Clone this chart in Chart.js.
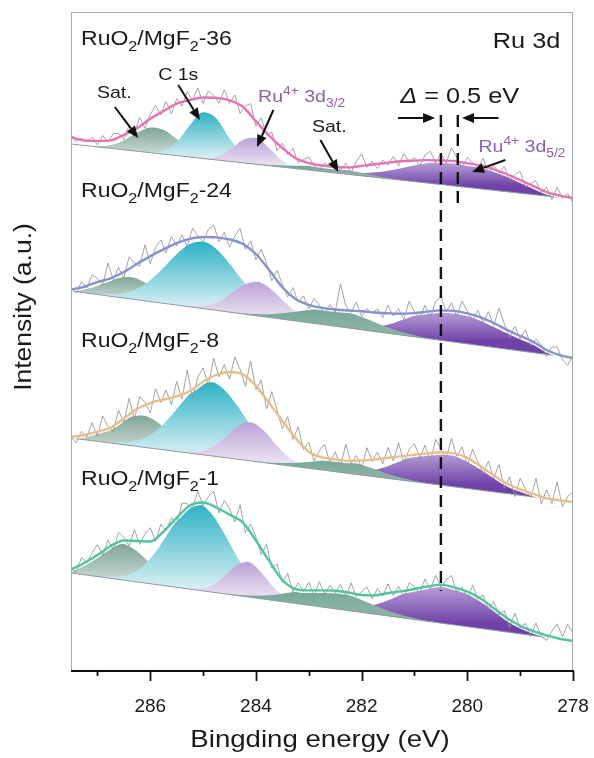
<!DOCTYPE html>
<html>
<head>
<meta charset="utf-8">
<title>Ru 3d XPS</title>
<script src="https://cdn.jsdelivr.net/npm/chart.js@4.4.1/dist/chart.umd.min.js"></script>
<style>
  html, body { margin: 0; padding: 0; background: #fff; }
  canvas { display: block; }
</style>
</head>
<body>
<canvas id="xps" width="594" height="758"></canvas>
<script>
/* Ru 3d XPS spectra of RuO2/MgF2 samples, stacked with offsets */
(function () {
  'use strict';

  Chart.defaults.font.family = "'Liberation Sans', Arial, Helvetica, sans-serif";
  Chart.defaults.color = '#1a1a1a';

  // ── Energy axis (eV, drawn reversed) ──
  var E_MAX = 287.5, E_MIN = 278;
  var FIT_STEP = 0.25;   // fitted curves: one sample every 0.25 eV
  var RAW_STEP = 0.1;    // measured counts: one sample every 0.1 eV from 287.5
  var xTickLabels = [286, 284, 282, 280, 278];

  // ── Linear background of each stacked spectrum [at 287.5 eV, at 278 eV] ──
  var bg36 = [526, 471];
  var bg24 = [379, 312];
  var bg8 = [232, 168];
  var bg1 = [97, 29];

  // ── Fit envelopes, height above background, 287.5 -> 278 every 0.25 eV ──
  var env36 = [7, 5, 6, 8, 15, 23, 34, 43, 52, 57, 61, 62, 61, 56, 43, 30, 19, 10.5, 7, 6,
    6, 7, 10, 13, 16, 19, 21, 23, 24, 25, 24, 23.5, 21, 17.5, 13, 8.5, 4, 2, 1];
  var env24 = [1.5, 6, 12.5, 18, 26, 36, 45.5, 54, 62, 68, 71.7, 73, 72.7, 70, 61.7, 47.5, 32, 22, 17.8, 16.6,
    16.8, 17.5, 18.5, 19, 20, 21.3, 23.8, 27, 30, 31.2, 30.5, 28.3, 24.4, 19.3, 15, 10.8, 4.5, 1.2, 0];
  var env8 = [1, 4.7, 9.8, 15.5, 26.3, 37.4, 45, 50.3, 55, 62, 73, 81.6, 86.2, 85.5, 75.7, 60.3, 44, 28.7, 16.5, 12.6,
    12.3, 12.5, 14.6, 17.4, 20.6, 23.7, 27.1, 30.1, 32.9, 33.5, 30.7, 23.9, 16.5, 9.8, 6, 3.1, 0.3, 0, 0];
  var env1 = [3.5, 11.8, 21.5, 32.3, 39.7, 41, 42.2, 54, 69.4, 83.6, 88.4, 85.2, 79.9, 73.8, 57.6, 38.9, 21.6, 14.4, 14.8, 16.6,
    18.1, 18.1, 17.4, 18.8, 23, 26.3, 30.5, 34.8, 38.5, 37.5, 35, 30, 22, 14, 8, 4.5, 2, 0.5, 0];

  // ── Measured counts, height above background, 287.5 -> 278 every 0.1 eV ──
  var raw36 = [7, 3, 7, 4, 9, 2, 12, 6, 15, 16, 10, 25, 18, 34, 24, 38, 48, 39, 53, 41,
    57, 50, 65, 57, 70, 55, 68, 64, 57, 71, 58, 67, 49, 57, 60, 38, 47, 31, 34, 16,
    24, 13, 20, 6, 10, 13, 5, 1, 9, 5, 13, 3, 11, 2, 14, 22, 9, 16, 9, 18,
    14, 23, 14, 27, 19, 24, 16, 28, 32, 21, 31, 22, 38, 29, 19, 30, 25, 21, 31, 16,
    25, 18, 25, 12, 18, 22, 7, 11, 14, 3, 9, -3, 10, 0, 5, -4];
  var raw24 = [4, -1, 11, 5, 19, 16, 10, 33, 17, 30, 20, 42, 36, 34, 56, 38, 55, 63, 51, 68,
    59, 71, 60, 79, 72, 67, 80, 85, 69, 79, 65, 77, 85, 65, 74, 56, 67, 54, 37, 48,
    35, 23, 33, 19, 26, 14, 25, 19, 11, 21, 14, 43, 22, 16, 27, 13, 22, 18, 23, 15,
    28, 18, 26, 16, 35, 25, 20, 33, 21, 38, 44, 29, 39, 26, 42, 33, 24, 35, 23, 35,
    22, 40, 25, 12, 24, 12, 22, 7, 14, 9, -2, 8, 9, -3, -8, 3];
  var raw8 = [1, -4, 8, 3, 18, 5, 26, 16, 12, 34, 22, 47, 27, 50, 45, 35, 60, 47, 60, 46,
    70, 53, 83, 55, 77, 87, 70, 98, 80, 93, 79, 102, 90, 74, 100, 72, 82, 54, 72, 54,
    36, 49, 27, 40, 18, 26, 8, 19, 26, 8, 20, 6, 29, 10, 19, 7, 28, 15, 25, 14,
    31, 18, 37, 17, 32, 38, 25, 38, 22, 45, 37, 27, 48, 31, 41, 23, 40, 28, 17, 30,
    14, 28, 5, 17, -2, 17, 7, -1, 19, -6, 9, -4, 18, -6, 5, 10];
  var raw1 = [4, 2, 17, 12, 23, 32, 22, 38, 29, 47, 43, 35, 52, 38, 49, 56, 43, 61, 55, 69,
    63, 85, 85, 81, 99, 85, 95, 101, 80, 93, 86, 73, 91, 64, 73, 61, 44, 55, 32, 37,
    19, 29, 11, 21, 13, 23, 10, 25, 13, 23, 16, 25, 13, 28, 15, 21, 26, 15, 26, 19,
    32, 21, 31, 21, 36, 33, 27, 42, 32, 47, 36, 44, 49, 33, 39, 28, 42, 29, 34, 20,
    29, 16, 21, 5, 20, 6, 11, -1, 13, 0, -3, 7, 15, 3, 16, 8];

  // ── Fitted components: first sample at `from` (eV), then every FIT_STEP ──
  // RuO2/MgF2-36
  var satA36 = { from: 287.25, h: [0, 0.8, 3.4, 9.4, 18.4, 25.3, 24.4, 16.5, 7.8, 2.6, 0.6, 0] };
  var c1s36 = { from: 286.25, h: [0, 0.4, 3.5, 13.4, 31.7, 46.1, 41.5, 23.0, 7.9, 1.7, 0.2, 0] };
  var ru32_36 = { from: 285.25, h: [0, 0.5, 3.0, 11.1, 22.9, 26.5, 17.4, 6.4, 1.3, 0] };
  var satB36 = { from: 284.25, h: [0, 0.3, 0.8, 1.6, 2.8, 4.0, 4.9, 4.9, 4.2, 3.0, 1.8, 0.9, 0.4, 0] };
  var ru52_36 = { from: 282.5, h: [0.5, 1.5, 2.9, 5.1, 8.1, 12, 16.3, 20.2, 23, 24, 23.4, 21.6, 19, 15.9, 12.6, 8.5, 4, 2, 1] };
  // RuO2/MgF2-24
  var satA24 = { from: 287.63, h: [0.5, 1.9, 5.5, 11.9, 18.9, 22, 18.9, 11.9, 5.5, 1.9, 0.5, 0.1] };
  var c1s24 = { from: 287.02, h: [0.6, 1.8, 4.7, 10.5, 20.5, 34.4, 49.8, 62.2, 67, 62.2, 49.8, 34.4, 20.5, 10.5, 4.7, 1.8, 0.6] };
  var ru32_24 = { from: 285.48, h: [0.1, 0.7, 2.9, 8.5, 18.4, 29.1, 34, 29.1, 18.4, 8.5, 2.9, 0.7, 0.1] };
  var satB24 = { from: 284.5, h: [0.3, 0.7, 1.7, 3.3, 5.9, 9.3, 12.8, 15.5, 16.5, 15.5, 12.8, 9.3, 5.9, 3.3, 1.7, 0.7, 0.3] };
  var ru52_24 = { from: 282.39, h: [0.5, 1.4, 3.1, 6.3, 11.2, 17.5, 24, 29, 30, 29.3, 26.8, 23, 18.5, 14, 10, 6.5, 3, 1, 0.5] };
  // RuO2/MgF2-8
  var satA8 = { from: 287.65, h: [0.3, 1.4, 4.3, 10.3, 19.2, 27.9, 31.6, 27.9, 19.2, 10.3, 4.3, 1.4, 0.3] };
  var c1s8 = { from: 286.85, h: [0.4, 1.4, 3.9, 9.6, 20, 35.4, 53.1, 67.9, 73.6, 67.9, 53.1, 35.4, 20, 9.6, 3.9, 1.4, 0.4] };
  var ru32_8 = { from: 285.36, h: [0.5, 2.3, 7.8, 19, 32.3, 38.6, 32.3, 19, 7.8, 2.3, 0.5] };
  var satB8 = { from: 284.08, h: [0.2, 0.5, 1.4, 3, 5.5, 8.5, 11, 12, 11, 8.5, 5.5, 3, 1.4, 0.5, 0.2] };
  var ru52_8 = { from: 282.52, h: [0.6, 1.5, 3.3, 6.7, 11.9, 18.6, 25.6, 31, 33, 31.4, 27.2, 21.3, 15.1, 9.7, 5.7, 3, 1.5] };
  // RuO2/MgF2-1
  var satA1 = { from: 287.79, h: [1.6, 4.9, 11.7, 21.9, 31.8, 36, 31.8, 21.9, 11.7, 4.9, 1.6, 0.4] };
  var c1s1 = { from: 286.84, h: [0.9, 3, 8.4, 19.4, 37.2, 59.3, 78.3, 86, 78.3, 59.3, 37.2, 19.4, 8.4, 3, 0.9] };
  var ru32_1 = { from: 285.17, h: [0.7, 4, 13.3, 27.5, 35, 27.5, 13.3, 4, 0.7] };
  var satB1 = { from: 284.6, h: [0.3, 0.8, 1.8, 3.7, 6.5, 10.1, 14, 16.9, 18, 16.9, 14, 10.1, 6.5, 3.7, 1.8, 0.8, 0.3] };
  var ru52_1 = { from: 282.47, h: [1.2, 2.6, 5.4, 10, 16.4, 24.3, 31.5, 35.5, 38.5, 37, 32.5, 26, 19.5, 13, 8, 4.5, 2.3, 1] };

  // ── Shift markers (dashed lines) ──
  var dashEnergy = [280.5, 280.18];
  var dashTop = [555, 555];
  var dashBottom = [79, 465];

  var PURPLE = '#8a60b6';

  var spectra = [
    { name: '36', bg: bg36, env: env36, raw: raw36, peaks: [satA36, c1s36, ru32_36, ru52_36, satB36], color: '#e673b4', label: 625 },
    { name: '24', bg: bg24, env: env24, raw: raw24, peaks: [satA24, c1s24, ru32_24, ru52_24, satB24], color: '#8793cf', label: 473.5 },
    { name: '8', bg: bg8, env: env8, raw: raw8, peaks: [satA8, c1s8, ru32_8, ru52_8, satB8], color: '#e8bf89', label: 323 },
    { name: '1', bg: bg1, env: env1, raw: raw1, peaks: [satA1, c1s1, ru32_1, ru52_1, satB1], color: '#4fc4a0', label: 185 }
  ];

  // fill style per component, same order as `peaks`
  var peakStyles = [
    { top: '#7fa597', bottom: '#c8d7d1', order: 8 },   // satellite (high BE)
    { top: '#2db2c6', bottom: '#dcf0f4', order: 7 },   // C 1s
    { top: '#bba1d6', bottom: '#e9e0f1', order: 6 },   // Ru4+ 3d3/2
    { top: '#b9a2d8', bottom: '#7041a8', order: 5 },   // Ru4+ 3d5/2
    { top: '#74aa98', bottom: '#8ab1a4', order: 4 }    // satellite (low BE)
  ];

  // ── Annotations (energy, intensity) ──
  var notes = [
    { parts: [['Ru 3d']], e: 278.24, v: 622, size: 22, align: 'right' },
    { parts: [['\u0394', 'it'], [' = 0.5 eV']], e: 281.27, v: 567, size: 22 },
    { parts: [['C 1s']], e: 285.85, v: 590, size: 17 },
    { parts: [['Sat.']], e: 287.01, v: 572, size: 17 },
    { parts: [['Ru'], ['4+', 'sup'], [' 3d'], ['3/2', 'sub']], e: 283.96, v: 568, size: 17, color: PURPLE },
    { parts: [['Sat.']], e: 282.94, v: 538, size: 17 },
    { parts: [['Ru'], ['4+', 'sup'], [' 3d'], ['5/2', 'sub']], e: 279.79, v: 518, size: 17, color: PURPLE }
  ];
  var arrows = [
    [286.67, 563, 286.23, 532],
    [285.47, 585, 285.06, 550],
    [283.67, 560, 283.98, 523],
    [282.78, 530, 282.44, 498],
    [279.28, 510, 279.91, 498],
    [281.31, 552, 280.61, 552],
    [279.41, 552, 280.10, 552]
  ];

  // ── Helpers ──
  function bgAt(bg, e) {
    return bg[0] + (bg[1] - bg[0]) * (E_MAX - e) / (E_MAX - E_MIN);
  }

  function toPoints(bg, from, step, vals) {
    return vals.map(function (v, j) {
      var e = +(from - j * step).toFixed(3);
      return { x: e, y: bgAt(bg, e) + v };
    });
  }

  function peakFill(topColor, bottomColor) {
    return function (ctx) {
      var chart = ctx.chart, ds = ctx.dataset, ys = chart.scales.y;
      if (!chart.chartArea || !ys || ds.gradTop === undefined) return topColor;
      var y0 = ys.getPixelForValue(ds.gradTop), y1 = ys.getPixelForValue(ds.gradBottom);
      if (!isFinite(y0) || !isFinite(y1) || y1 - y0 < 1) return topColor;
      var g = chart.ctx.createLinearGradient(0, y0, 0, y1);
      g.addColorStop(0, topColor);
      g.addColorStop(1, bottomColor);
      return g;
    };
  }

  // ── Build datasets ──
  var datasets = [];
  spectra.forEach(function (s) {
    var bgIndex = datasets.length;
    datasets.push({
      data: [{ x: E_MAX, y: s.bg[0] }, { x: E_MIN, y: s.bg[1] }],
      borderColor: '#8f9ca4', borderWidth: 1, order: 3
    });

    s.peaks.forEach(function (p, n) {
      var st = peakStyles[n];
      var imax = 0;
      p.h.forEach(function (v, j) { if (v > p.h[imax]) imax = j; });
      var eTop = p.from - imax * FIT_STEP;
      datasets.push({
        data: toPoints(s.bg, p.from, FIT_STEP, p.h),
        borderColor: 'transparent', borderWidth: 0,
        fill: { target: bgIndex },
        backgroundColor: peakFill(st.top, st.bottom),
        gradTop: bgAt(s.bg, eTop) + p.h[imax],
        gradBottom: bgAt(s.bg, eTop),
        cubicInterpolationMode: 'monotone',
        order: st.order
      });
    });

    datasets.push({
      data: toPoints(s.bg, E_MAX, RAW_STEP, s.raw),
      borderColor: '#939393', borderWidth: 0.85, tension: 0, order: 1
    });
    var envPts = toPoints(s.bg, E_MAX, FIT_STEP, s.env);
    datasets.push({
      data: envPts, borderColor: '#ffffff', borderWidth: 5,
      cubicInterpolationMode: 'monotone', order: 2
    });
    datasets.push({
      data: envPts, borderColor: s.color, borderWidth: 2.4,
      cubicInterpolationMode: 'monotone', order: 0
    });
  });

  dashEnergy.forEach(function (e, i) {
    datasets.push({
      data: [{ x: e, y: dashTop[i] }, { x: e, y: dashBottom[i] }],
      borderColor: '#111', borderWidth: 2.4, borderDash: [12, 7], order: -1
    });
  });

  // ── Text / arrow drawing ──
  var SX = 1.15;   // the figure's lettering runs a little wide
  var FONT = "'Liberation Sans', Arial, sans-serif";

  function drawParts(ctx, parts, x, y, size, align, color) {
    function fontOf(p) {
      var small = p[1] === 'sub' || p[1] === 'sup';
      return (p[1] === 'it' ? 'italic ' : '') + Math.round(small ? size * 0.68 : size) + 'px ' + FONT;
    }
    var total = 0;
    ctx.save();
    parts.forEach(function (p) { ctx.font = fontOf(p); total += ctx.measureText(p[0]).width; });
    ctx.fillStyle = color || '#1a1a1a';
    ctx.textAlign = 'left';
    ctx.textBaseline = 'alphabetic';
    ctx.translate(x - (align === 'right' ? total * SX : 0), y);
    ctx.scale(SX, 1);
    var cx = 0;
    parts.forEach(function (p) {
      ctx.font = fontOf(p);
      var dy = p[1] === 'sub' ? size * 0.3 : (p[1] === 'sup' ? -size * 0.42 : 0);
      ctx.fillText(p[0], cx, dy);
      cx += ctx.measureText(p[0]).width;
    });
    ctx.restore();
  }

  function drawArrow(ctx, x0, y0, x1, y1) {
    var ang = Math.atan2(y1 - y0, x1 - x0), head = 12, half = 5;
    var bx = x1 - head * Math.cos(ang), by = y1 - head * Math.sin(ang);
    ctx.beginPath();
    ctx.moveTo(x0, y0);
    ctx.lineTo(bx, by);
    ctx.stroke();
    ctx.beginPath();
    ctx.moveTo(x1, y1);
    ctx.lineTo(bx + half * Math.sin(ang), by - half * Math.cos(ang));
    ctx.lineTo(bx - half * Math.sin(ang), by + half * Math.cos(ang));
    ctx.closePath();
    ctx.fill();
  }

  var decor = {
    id: 'decor',
    afterDraw: function (chart) {
      var ctx = chart.ctx, a = chart.chartArea, xs = chart.scales.x, ys = chart.scales.y;

      // frame
      ctx.save();
      ctx.strokeStyle = '#a8a8a8';
      ctx.lineWidth = 1;
      ctx.beginPath();
      ctx.moveTo(a.left + 0.5, a.bottom);
      ctx.lineTo(a.left + 0.5, a.top + 0.5);
      ctx.lineTo(a.right - 0.5, a.top + 0.5);
      ctx.lineTo(a.right - 0.5, a.bottom);
      ctx.stroke();

      // bottom axis + ticks
      ctx.strokeStyle = '#111';
      ctx.lineWidth = 2;
      ctx.beginPath();
      ctx.moveTo(a.left, a.bottom + 1);
      ctx.lineTo(a.right + 1, a.bottom + 1);
      ctx.stroke();
      ctx.lineWidth = 1.8;
      xs.ticks.forEach(function (t) {
        var px = Math.round(xs.getPixelForValue(t.value)) + 0.5;
        var len = xTickLabels.indexOf(t.value) >= 0 ? 10 : 5;
        ctx.beginPath();
        ctx.moveTo(px, a.bottom + 1);
        ctx.lineTo(px, a.bottom + 1 + len);
        ctx.stroke();
      });
      ctx.restore();

      // sample labels
      spectra.forEach(function (s) {
        drawParts(ctx, [['RuO'], ['2', 'sub'], ['/MgF'], ['2', 'sub'], ['-' + s.name]],
          xs.getPixelForValue(287.31), ys.getPixelForValue(s.label), 20);
      });

      // annotations
      notes.forEach(function (n) {
        drawParts(ctx, n.parts, xs.getPixelForValue(n.e), ys.getPixelForValue(n.v), n.size, n.align, n.color);
      });
      ctx.save();
      ctx.strokeStyle = '#111';
      ctx.fillStyle = '#111';
      ctx.lineWidth = 2;
      arrows.forEach(function (r) {
        drawArrow(ctx, xs.getPixelForValue(r[0]), ys.getPixelForValue(r[1]),
          xs.getPixelForValue(r[2]), ys.getPixelForValue(r[3]));
      });
      ctx.restore();

      // axis titles
      ctx.save();
      ctx.fillStyle = '#1a1a1a';
      ctx.font = '23px ' + FONT;
      ctx.textAlign = 'center';
      ctx.textBaseline = 'middle';
      ctx.translate(a.left - 46, a.top + 295);
      ctx.rotate(-Math.PI / 2);
      ctx.scale(SX, 1);
      ctx.fillText('Intensity (a.u.)', 0, 0);
      ctx.restore();

      ctx.save();
      ctx.fillStyle = '#1a1a1a';
      ctx.font = '24px ' + FONT;
      ctx.textAlign = 'center';
      ctx.textBaseline = 'middle';
      ctx.translate((a.left + a.right) / 2 - 2, a.bottom + 70);
      ctx.scale(SX, 1);
      ctx.fillText('Bingding energy (eV)', 0, 0);
      ctx.restore();
    }
  };

  new Chart(document.getElementById('xps').getContext('2d'), {
    type: 'line',
    data: { datasets: datasets },
    options: {
      responsive: false,
      animation: false,
      events: [],
      layout: { padding: { left: 71, right: 21, top: 12, bottom: 0 } },
      elements: { point: { radius: 0 } },
      plugins: { legend: { display: false }, tooltip: { enabled: false } },
      scales: {
        x: {
          type: 'linear',
          reverse: true,
          min: E_MIN,
          max: E_MAX,
          border: { display: false },
          grid: { display: false, drawTicks: false },
          ticks: {
            stepSize: 1,
            includeBounds: false,
            padding: 25,
            maxRotation: 0,
            autoSkip: false,
            font: { size: 19 },
            color: '#1a1a1a',
            callback: function (v) { return xTickLabels.indexOf(v) >= 0 ? String(v) : ''; }
          },
          afterFit: function (scale) {
            scale.height = 88;
            scale.paddingLeft = 0;
            scale.paddingRight = 0;
          }
        },
        y: { display: false, min: 0, max: 658 }
      }
    },
    plugins: [decor]
  });
})();
</script>
</body>
</html>
